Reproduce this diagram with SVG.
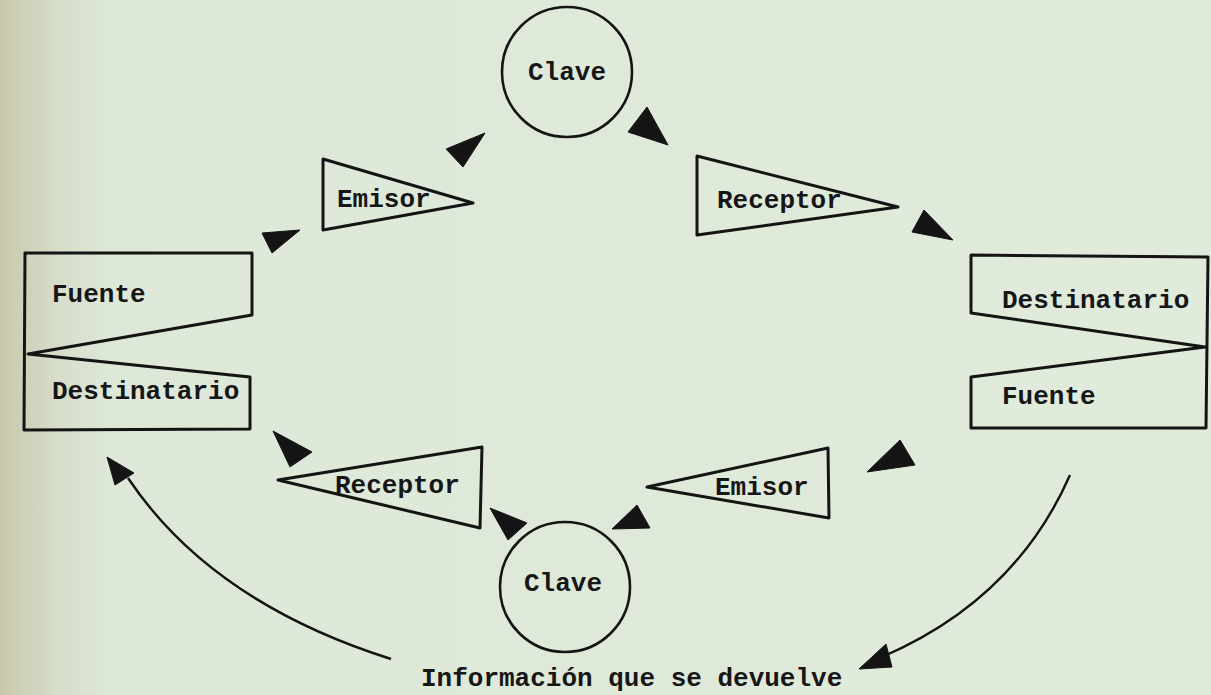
<svg xmlns="http://www.w3.org/2000/svg" width="1211" height="695" viewBox="0 0 1211 695">
<defs>
<linearGradient id="bg" x1="0" y1="0" x2="1" y2="0">
<stop offset="0" stop-color="#c9c8ad"/>
<stop offset="0.045" stop-color="#d6dcc8"/>
<stop offset="0.09" stop-color="#dde8d9"/>
<stop offset="1" stop-color="#e0ebdc"/>
</linearGradient>
<style>
.shape{fill:none;stroke:#141414;stroke-width:3;stroke-linejoin:round}
.circ{fill:none;stroke:#141414;stroke-width:2.6}
.head{fill:#141414;stroke:#141414;stroke-width:1;stroke-linejoin:round}
.curve{fill:none;stroke:#141414;stroke-width:2.4}
.lbl{font-family:"Liberation Mono","DejaVu Sans Mono",monospace;font-weight:bold;font-size:26px;fill:#161616}
</style>
</defs>
<rect x="0" y="0" width="1211" height="695" fill="url(#bg)"/>

<g id="clave-top">
<circle class="circ" cx="567" cy="72" r="65"/>
<text class="lbl" x="528" y="80">Clave</text>
</g>
<g id="emisor-top">
<polygon class="shape" points="323,159 473,203 323,230"/>
<text class="lbl" x="337" y="207">Emisor</text>
</g>
<g id="receptor-top">
<polygon class="shape" points="697,156 898,207 697,235"/>
<text class="lbl" x="717" y="208">Receptor</text>
</g>
<g id="fuente-destinatario-left">
<polygon class="shape" points="25,253 252,253 252,315 28,354 250,377 250,429 24,430"/>
<text class="lbl" x="52" y="302">Fuente</text>
<text class="lbl" x="52" y="399">Destinatario</text>
</g>
<g id="destinatario-fuente-right">
<polygon class="shape" points="971,255 1208,257 1206,428 971,428 971,377 1205,347 971,313"/>
<text class="lbl" x="1002" y="308">Destinatario</text>
<text class="lbl" x="1002" y="404">Fuente</text>
</g>
<g id="receptor-bottom">
<polygon class="shape" points="278,480 482,447 480,528"/>
<text class="lbl" x="335" y="493">Receptor</text>
</g>
<g id="emisor-bottom">
<polygon class="shape" points="647,487 828,448 829,518"/>
<text class="lbl" x="715" y="495">Emisor</text>
</g>
<g id="clave-bottom">
<circle class="circ" cx="565" cy="587" r="65"/>
<text class="lbl" x="524" y="591">Clave</text>
</g>
<g id="feedback-label">
<text class="lbl" x="421" y="686">Información que se devuelve</text>
</g>

<g id="connectors">
<polygon class="head" points="262,233 300,230 272,253"/>
<polygon class="head" points="446,149 485,133 463,167"/>
<polygon class="head" points="628,132 647,107 668,145"/>
<polygon class="head" points="912,232 924,210 953,240"/>
<polygon class="head" points="867,472 900,440 915,465"/>
<polygon class="head" points="612,529 637,505 650,528"/>
<polygon class="head" points="490,508 527,523 508,540"/>
<polygon class="head" points="273,431 312,452 290,467"/>
<path class="curve" d="M391,659 Q211,602 128,478"/>
<polygon class="head" points="107,457 134,473 115,485"/>
<path class="curve" d="M1070,475 Q1015,600 882,657"/>
<polygon class="head" points="859,669 886,644 892,667"/>
</g>
</svg>
